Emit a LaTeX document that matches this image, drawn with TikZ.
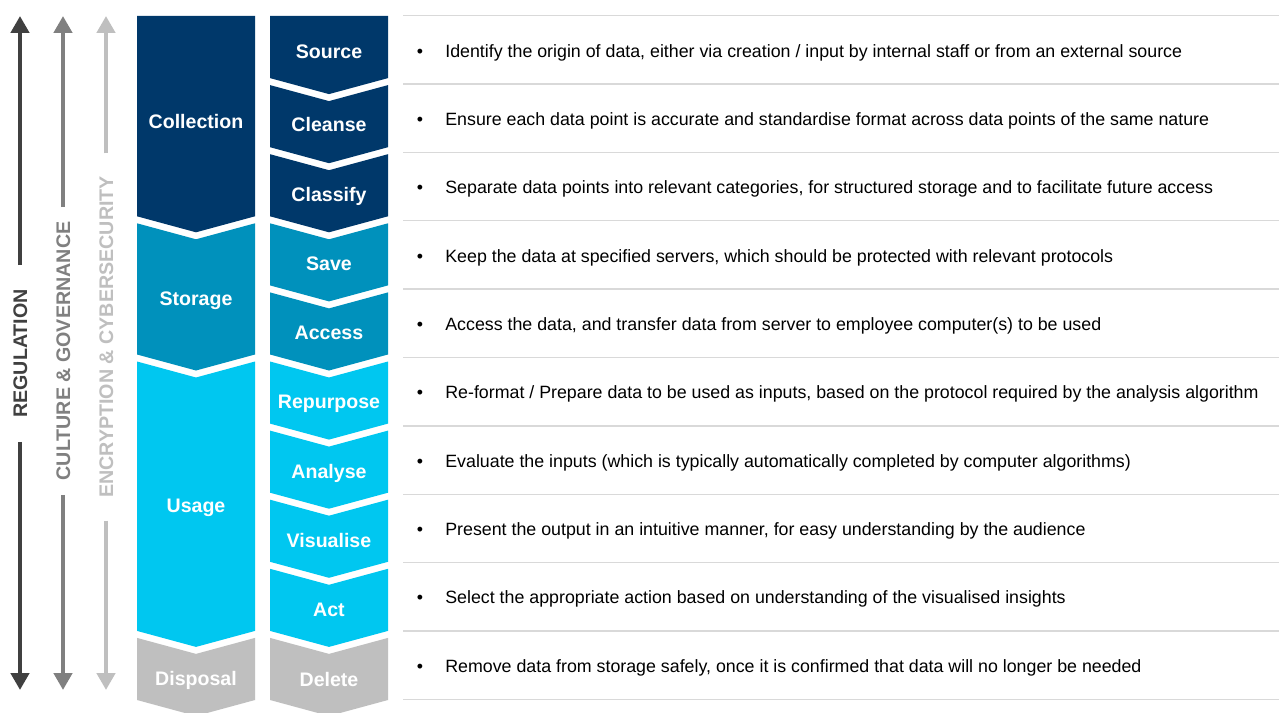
\documentclass[tikz,border=0pt]{standalone}
\usepackage{fontspec}
\setmainfont{Liberation Sans}
\usetikzlibrary{arrows.meta}

\definecolor{azulEscuro}{RGB}{0,56,106}
\definecolor{azulMedio}{RGB}{0,145,188}
\definecolor{azulClaro}{RGB}{0,199,240}
\definecolor{cinzaFase}{RGB}{191,191,191}

\begin{document}
\begin{tikzpicture}[
    x=0.02cm,
    y=-0.02cm,
    every node/.style={font=\fontsize{10.13}{12}\selectfont},
    rotulo/.style={font=\fontsize{11.14}{13}\selectfont\bfseries, text=white,
        inner sep=0pt, text height=7.98pt, text depth=0pt},
    eixo/.style={rotate=90, font=\fontsize{11.2}{13}\selectfont\bfseries,
        inner sep=0pt, text height=8pt, text depth=0pt},
    seta/.style={line width=2.8pt, -{Triangle[width=10.2pt,length=9.6pt]}},
    divisoria/.style={draw=black!15, line width=0.9pt},
    descricao/.style={anchor=west, inner sep=0pt, text height=7.2pt, text depth=0pt},
    marcador/.style={inner sep=0pt, text height=7.2pt, text depth=0pt}
]

% Fundo branco e moldura da figura.
\path[use as bounding box, fill=white] (0,0) rectangle (1279,713);

% Eixos transversais:
% tres setas verticais nos dois sentidos, interrompidas pelo nome de cada eixo.
\node[eixo, text=black!75, minimum width=100.3pt] (regulation) at (20,353.5) {REGULATION};
\node[eixo, text=black!50, minimum width=163.3pt] (culture) at (63,351) {CULTURE \& GOVERNANCE};
\node[eixo, text=black!25, minimum width=208.6pt] (encryption) at (106,337) {ENCRYPTION \& CYBERSECURITY};

\coordinate (regTopo) at (20,16);
\coordinate (regBase) at (20,690);
\coordinate (culTopo) at (63,16);
\coordinate (culBase) at (63,690);
\coordinate (encTopo) at (106,16);
\coordinate (encBase) at (106,690);

\draw[seta, draw=black!75] (regulation.east) -- (regTopo);
\draw[seta, draw=black!75] (regulation.west) -- (regBase);
\draw[seta, draw=black!50] (culture.east) -- (culTopo);
\draw[seta, draw=black!50] (culture.west) -- (culBase);
\draw[seta, draw=black!25] (encryption.east) -- (encTopo);
\draw[seta, draw=black!25] (encryption.west) -- (encBase);

% Fases do ciclo de vida:
% divisas na coluna da esquerda, cada uma cobrindo as etapas que lhe cabem.
\foreach \topo/\base/\ent/\cor in {16/216.3/0/azulEscuro, 223.3/354.5/16/azulMedio,
        361.5/630.9/16/azulClaro, 637.9/700/16/cinzaFase}
    \fill[\cor] (137,\topo) -- (196,\topo+\ent) -- (255,\topo)
        -- (255,\base) -- (196,\base+16) -- (137,\base) -- cycle;

\foreach \nome/\y/\texto in {collection/121/Collection, storage/298/Storage,
        usage/505/Usage, disposal/678/Disposal}
    \node[rotulo] (\nome) at (196,\y) {\texto};

% Etapas:
% divisas de altura igual na coluna da direita, com passo de 69.1.
\foreach \topo/\ent/\cor in {16/0/azulEscuro, 85.1/16/azulEscuro, 154.2/16/azulEscuro,
        223.3/16/azulMedio, 292.4/16/azulMedio, 361.5/16/azulClaro, 430.6/16/azulClaro,
        499.7/16/azulClaro, 568.8/16/azulClaro, 637.9/16/cinzaFase}
    \fill[\cor] (270,\topo) -- (329,\topo+\ent) -- (388,\topo)
        -- (388,\topo+62.1) -- (329,\topo+78.1) -- (270,\topo+62.1) -- cycle;

\foreach \nome/\y/\texto in {source/51/Source, cleanse/124/Cleanse, classify/194/Classify,
        save/263/Save, access/332/Access, repurpose/401/Repurpose, analyse/471/Analyse,
        visualise/540/Visualise, act/609/Act, delete/679/Delete}
    \node[rotulo] (\nome) at (329,\y) {\texto};

% Linhas divisorias da tabela de descricoes.
\foreach \k in {0,...,10}
    \draw[divisoria] (403,15.5+68.4*\k) -- (1279,15.5+68.4*\k);

% Descricoes:
% um marcador e uma frase por etapa, centradas entre as linhas.
\foreach \k in {0,...,9}
    \node[marcador] (bullet\k) at (420,51+68.3*\k) {\textbullet};

\node[descricao] (dSource) at (445,51.0)
    {Identify the origin of data, either via creation / input by internal staff or from an external source};
\node[descricao] (dCleanse) at (445,119.3)
    {Ensure each data point is accurate and standardise format across data points of the same nature};
\node[descricao] (dClassify) at (445,187.6)
    {Separate data points into relevant categories, for structured storage and to facilitate future access};
\node[descricao] (dSave) at (445,255.9)
    {Keep the data at specified servers, which should be protected with relevant protocols};
\node[descricao] (dAccess) at (445,324.2)
    {Access the data, and transfer data from server to employee computer(s) to be used};
\node[descricao] (dRepurpose) at (445,392.5)
    {Re-format / Prepare data to be used as inputs, based on the protocol required by the analysis algorithm};
\node[descricao] (dAnalyse) at (445,460.8)
    {Evaluate the inputs (which is typically automatically completed by computer algorithms)};
\node[descricao] (dVisualise) at (445,529.1)
    {Present the output in an intuitive manner, for easy understanding by the audience};
\node[descricao] (dAct) at (445,597.4)
    {Select the appropriate action based on understanding of the visualised insights};
\node[descricao] (dDelete) at (445,665.7)
    {Remove data from storage safely, once it is confirmed that data will no longer be needed};

\end{tikzpicture}
\end{document}
